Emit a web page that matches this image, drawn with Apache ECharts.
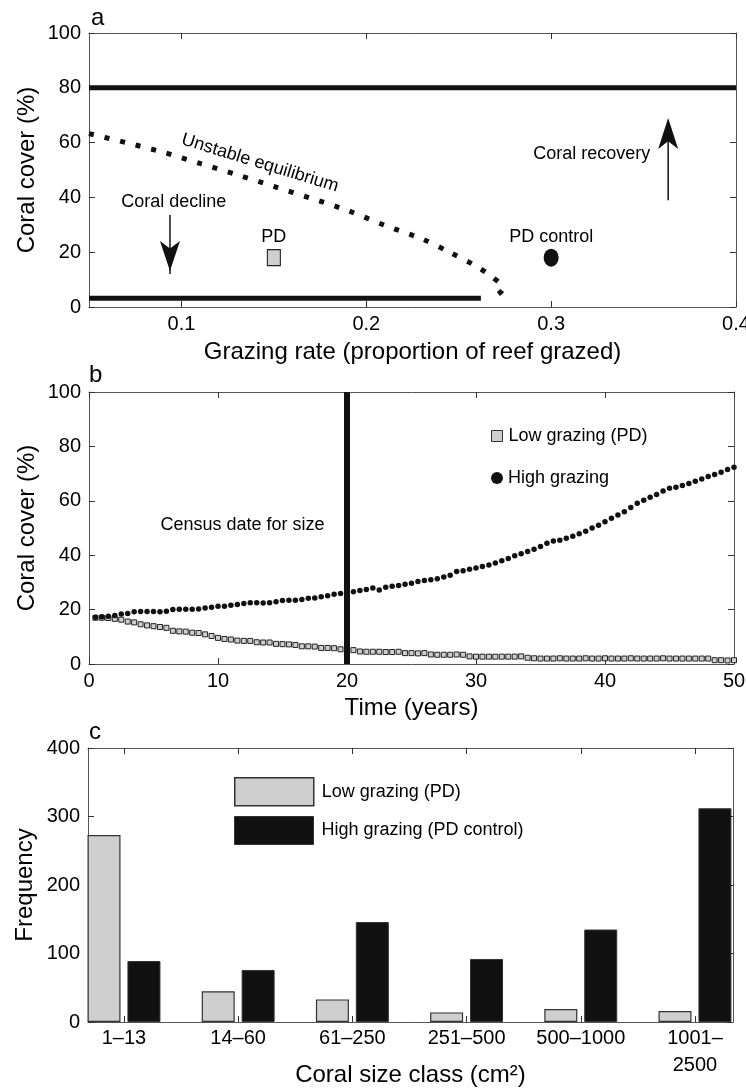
<!DOCTYPE html>
<html><head><meta charset="utf-8">
<script src="https://cdn.jsdelivr.net/npm/echarts@6/dist/echarts.min.js"></script>
<style>html,body{margin:0;padding:0;background:#fff}#c{width:746px;height:1089px}</style>
</head><body><div id="c"></div>
<script>
// ---------- Panel a ----------
const aUpperStable = [[0.05, 80], [0.4, 80]];
const aLowerStable = [[0.05, 3.2], [0.262, 3.2]];
const aUnstable = [[0.05, 63.3], [0.07, 60.0], [0.09, 56.5], [0.11, 52.4], [0.13, 48.3], [0.15, 44.0],
  [0.17, 39.7], [0.19, 35.2], [0.21, 29.8], [0.23, 24.9], [0.245, 20.0], [0.26, 14.7], [0.268, 11.0],
  [0.274, 6.8], [0.271, 4.5], [0.266, 3.3]];
const aPD = [[0.15, 18]];
const aPDControl = [[0.3, 18]];
const aTicksX = [0.1, 0.2, 0.3, 0.4];
const aTicksY = [0, 20, 40, 60, 80, 100];

// ---------- Panel b ----------
const bTime = [0.5,1,1.5,2,2.5,3,3.5,4,4.5,5,5.5,6,6.5,7,7.5,8,8.5,9,9.5,10,
  10.5,11,11.5,12,12.5,13,13.5,14,14.5,15,15.5,16,16.5,17,17.5,18,18.5,19,19.5,20,
  20.5,21,21.5,22,22.5,23,23.5,24,24.5,25,25.5,26,26.5,27,27.5,28,28.5,29,29.5,30,
  30.5,31,31.5,32,32.5,33,33.5,34,34.5,35,35.5,36,36.5,37,37.5,38,38.5,39,39.5,40,
  40.5,41,41.5,42,42.5,43,43.5,44,44.5,45,45.5,46,46.5,47,47.5,48,48.5,49,49.5,50];
const bLow = [17.0,17.0,16.9,16.6,16.3,15.6,15.3,14.6,14.2,13.9,
  13.6,13.3,12.2,12.0,11.9,11.5,11.4,10.9,10.3,9.6,
  9.2,9.0,8.6,8.5,8.5,8.0,7.9,7.9,7.4,7.3,
  7.2,7.0,6.5,6.5,6.4,5.9,5.9,5.8,5.4,5.3,
  5.1,4.6,4.5,4.5,4.5,4.4,4.4,4.5,4.0,4.0,
  3.9,4.0,3.5,3.4,3.4,3.4,3.5,3.4,2.8,2.7,
  2.7,2.7,2.7,2.7,2.7,2.7,2.8,2.3,2.1,2.0,
  2.0,2.0,2.1,2.0,2.0,2.0,2.1,2.0,2.0,2.1,
  2.0,2.0,2.0,2.1,2.0,2.0,2.0,2.0,2.1,2.0,
  2.0,2.0,2.0,2.0,2.0,2.0,1.4,1.4,1.3,1.4];
const bHigh = [17.2,17.4,17.6,17.8,18.4,18.6,19.2,19.3,19.3,19.3,
  19.2,19.4,20.0,20.1,20.1,20.1,20.2,20.6,20.9,21.2,
  21.2,21.6,21.9,22.2,22.5,22.5,22.4,22.5,22.9,23.3,
  23.4,23.4,23.7,24.2,24.3,24.7,25.1,25.6,25.9,26.0,
  26.6,27.0,27.4,27.9,27.2,28.2,28.6,28.9,29.3,29.7,
  30.3,30.7,31.0,31.3,32.0,32.6,34.0,34.3,34.8,35.3,
  35.8,36.4,37.1,38.0,38.8,39.8,40.5,41.4,42.2,43.2,
  44.4,45.2,45.5,46.2,47.0,47.9,48.8,50.0,51.0,52.3,
  53.6,54.8,56.0,57.5,59.1,60.2,61.3,62.3,63.6,64.6,
  65.0,65.6,66.4,67.2,68.0,68.9,69.7,70.5,71.5,72.3];
const bCensusYear = 20;

// ---------- Panel c ----------
const cCategories = ['1–13', '14–60', '61–250', '251–500', '500–1000', '1001–\n2500'];
const cLow = [273, 45, 33, 14, 19, 16];
const cHigh = [89, 76, 146, 92, 135, 312];

// ---------- styling ----------
const FONT = 'Liberation Sans';
const INK = '#111';
const FRAME = '#555';
const GRAYFILL = '#cfcfcf';
const TXT = '#000';

function frameAxis(extra) {
  return Object.assign({
    axisLine: { show: true, onZero: false, lineStyle: { color: FRAME, width: 1 } },
    axisTick: { show: true, inside: true, length: 6, lineStyle: { color: '#333' } },
    axisLabel: { show: false },
    splitLine: { show: false },
    nameMoveOverlap: false
  }, extra);
}
const labelStyle = { color: TXT, fontSize: 20, fontFamily: FONT };
const nameStyle = { color: TXT, fontSize: 24, fontFamily: FONT };
const titleStyle = { fontSize: 24, fontWeight: 'normal', color: TXT, fontFamily: FONT };

const chart = echarts.init(document.getElementById('c'), null, { renderer: 'canvas' });

const annot = (xi, yi, items, extra) => ({
  type: 'scatter', xAxisIndex: xi, yAxisIndex: yi, symbolSize: 0, silent: true,
  itemStyle: { opacity: 1 },
  data: items,
  label: Object.assign({ show: true, position: 'inside', formatter: p => p.name,
    color: TXT, fontSize: 18, fontFamily: FONT }, extra || {})
});

const option = {
  animation: false,
  backgroundColor: '#fff',
  textStyle: { fontFamily: FONT },
  title: [
    { text: 'a', left: 91, top: 6, padding: 0, textStyle: titleStyle },
    { text: 'b', left: 89, top: 363, padding: 0, textStyle: titleStyle },
    { text: 'c', left: 89, top: 720, padding: 0, textStyle: titleStyle }
  ],
  grid: [
    { left: 89, top: 33, width: 647, height: 274, outerBoundsMode: 'none', containLabel: false },
    { left: 89, top: 392, width: 645, height: 272, outerBoundsMode: 'none', containLabel: false },
    { left: 88, top: 748, width: 645, height: 274, outerBoundsMode: 'none', containLabel: false }
  ],
  legend: [
    { data: ['Low grazing (PD)'], left: 486, top: 421, itemWidth: 11, itemHeight: 11, selectedMode: false,
      textStyle: { fontSize: 18, fontFamily: FONT, color: TXT, lineHeight: 20, padding: [0, 0, 0, 1] },
      icon: 'rect', itemStyle: { color: GRAYFILL, borderColor: '#333', borderWidth: 1, opacity: 1 } },
    { data: ['High grazing'], left: 486, top: 463, itemWidth: 12, itemHeight: 12, selectedMode: false,
      textStyle: { fontSize: 18, fontFamily: FONT, color: TXT, lineHeight: 20, padding: [0, 0, 0, 0] },
      icon: 'circle', itemStyle: { color: INK, opacity: 1 } },
    { data: [{ name: 'Low grazing (PD)', icon: 'rect', itemStyle: { color: GRAYFILL, borderColor: '#333', borderWidth: 1.5, opacity: 1 } }],
      left: 229, top: 772, itemWidth: 79, itemHeight: 28, selectedMode: false,
      textStyle: { fontSize: 18, fontFamily: FONT, color: TXT, padding: [0, 0, 0, 3] } },
    { data: [{ name: 'High grazing (PD control)', icon: 'rect', itemStyle: { color: INK, borderColor: '#333', borderWidth: 1, opacity: 1 } }],
      left: 229, top: 811, itemWidth: 79, itemHeight: 28, selectedMode: false,
      textStyle: { fontSize: 18, fontFamily: FONT, color: TXT, padding: [0, 0, 0, 3] } }
  ],
  xAxis: [
    frameAxis({ gridIndex: 0, type: 'value', min: 0.05, max: 0.4, position: 'bottom',
      axisTick: { show: true, inside: true, length: 6, customValues: aTicksX, lineStyle: { color: '#333' } },
      axisLabel: Object.assign({ show: true, margin: 7, customValues: aTicksX, formatter: v => String(+v.toFixed(2)) }, labelStyle),
      name: 'Grazing rate (proportion of reef grazed)', nameLocation: 'middle', nameGap: 33, nameTextStyle: nameStyle }),
    frameAxis({ gridIndex: 0, type: 'value', min: 0.05, max: 0.4, position: 'top',
      axisTick: { show: true, inside: true, length: 6, customValues: aTicksX, lineStyle: { color: '#333' } } }),
    frameAxis({ gridIndex: 1, type: 'value', min: 0, max: 50, interval: 10, position: 'bottom',
      axisLabel: Object.assign({ show: true, margin: 7 }, labelStyle),
      name: 'Time (years)', nameLocation: 'middle', nameGap: 32, nameTextStyle: nameStyle }),
    frameAxis({ gridIndex: 1, type: 'value', min: 0, max: 50, interval: 10, position: 'top' }),
    frameAxis({ gridIndex: 2, type: 'value', min: 0.685, max: 6.333, position: 'bottom',
      axisTick: { show: true, inside: true, length: 6, customValues: [1, 2, 3, 4, 5, 6], lineStyle: { color: '#333' } },
      axisLabel: Object.assign({ show: true, margin: 3, lineHeight: 27, customValues: [1, 2, 3, 4, 5, 6],
        formatter: v => cCategories[Math.round(v) - 1] }, labelStyle),
      name: 'Coral size class (cm²)', nameLocation: 'middle', nameGap: 41, nameTextStyle: nameStyle }),
    frameAxis({ gridIndex: 2, type: 'value', min: 0.685, max: 6.333, position: 'top',
      axisTick: { show: true, inside: true, length: 6, customValues: [1, 2, 3, 4, 5, 6], lineStyle: { color: '#333' } } })
  ],
  yAxis: [
    frameAxis({ gridIndex: 0, type: 'value', min: 0, max: 100, interval: 20, position: 'left',
      axisLabel: Object.assign({ show: true, margin: 8 }, labelStyle),
      name: 'Coral cover (%)', nameLocation: 'middle', nameGap: 50, nameTextStyle: nameStyle }),
    frameAxis({ gridIndex: 0, type: 'value', min: 0, max: 100, interval: 20, position: 'right' }),
    frameAxis({ gridIndex: 1, type: 'value', min: 0, max: 100, interval: 20, position: 'left',
      axisLabel: Object.assign({ show: true, margin: 8 }, labelStyle),
      name: 'Coral cover (%)', nameLocation: 'middle', nameGap: 50, nameTextStyle: nameStyle }),
    frameAxis({ gridIndex: 1, type: 'value', min: 0, max: 100, interval: 20, position: 'right' }),
    frameAxis({ gridIndex: 2, type: 'value', min: 0, max: 400, interval: 100, position: 'left',
      axisLabel: Object.assign({ show: true, margin: 8 }, labelStyle),
      name: 'Frequency', nameLocation: 'middle', nameGap: 51, nameTextStyle: nameStyle }),
    frameAxis({ gridIndex: 2, type: 'value', min: 0, max: 400, interval: 100, position: 'right' })
  ],
  series: [
    // ----- panel a -----
    { name: 'Stable (high)', type: 'line', xAxisIndex: 0, yAxisIndex: 0, data: aUpperStable, symbol: 'none',
      lineStyle: { color: INK, width: 5 }, silent: true },
    { name: 'Stable (low)', type: 'line', xAxisIndex: 0, yAxisIndex: 0, data: aLowerStable, symbol: 'none',
      lineStyle: { color: INK, width: 5 }, silent: true },
    { name: 'Unstable equilibrium', type: 'line', xAxisIndex: 0, yAxisIndex: 0, data: aUnstable, symbol: 'none',
      smooth: 0.3, lineStyle: { color: INK, width: 5, type: [5, 11], cap: 'butt' }, silent: true },
    // arrows
    { type: 'line', xAxisIndex: 0, yAxisIndex: 0, data: [[0.0938, 33.6], [0.0938, 12]], symbol: 'none',
      lineStyle: { color: INK, width: 1.5 }, silent: true },
    { type: 'scatter', xAxisIndex: 0, yAxisIndex: 0, data: [[0.0938, 13.1]], symbol: 'arrow', symbolSize: [15, 30],
      symbolRotate: 180, itemStyle: { color: INK, opacity: 1 }, silent: true },
    { type: 'line', xAxisIndex: 0, yAxisIndex: 0, data: [[0.3633, 39], [0.3633, 66]], symbol: 'none',
      lineStyle: { color: INK, width: 1.5 }, silent: true },
    { type: 'scatter', xAxisIndex: 0, yAxisIndex: 0, data: [[0.3633, 69]], symbol: 'arrow', symbolSize: [15, 31],
      itemStyle: { color: INK, opacity: 1 }, silent: true },
    { name: 'PD', type: 'scatter', xAxisIndex: 0, yAxisIndex: 0, data: aPD, symbol: 'rect', symbolSize: [13, 16],
      itemStyle: { color: GRAYFILL, borderColor: '#222', borderWidth: 1.2, opacity: 1 },
      label: { show: true, position: 'top', distance: 3, formatter: 'PD', color: TXT, fontSize: 18, fontFamily: FONT } },
    { name: 'PD control', type: 'scatter', xAxisIndex: 0, yAxisIndex: 0, data: aPDControl, symbol: 'circle', symbolSize: [15, 18],
      itemStyle: { color: INK, opacity: 1 },
      label: { show: true, position: 'top', distance: 3, formatter: 'PD control', color: TXT, fontSize: 18, fontFamily: FONT } },
    annot(0, 0, [
      { name: 'Coral decline', value: [0.0958, 38.3] },
      { name: 'Coral recovery', value: [0.322, 55.8] }
    ]),
    annot(0, 0, [{ name: 'Unstable equilibrium', value: [0.1425, 52.5] }], { rotate: -17 }),
    // ----- panel b -----
    { name: 'Census line', type: 'line', xAxisIndex: 2, yAxisIndex: 2, data: [[bCensusYear, 0], [bCensusYear, 100]],
      symbol: 'none', lineStyle: { color: INK, width: 6 }, silent: true },
    { name: 'Low grazing (PD)', type: 'scatter', xAxisIndex: 2, yAxisIndex: 2, symbol: 'rect', symbolSize: 5,
      data: bTime.map((t, i) => [t, bLow[i]]),
      itemStyle: { color: GRAYFILL, borderColor: '#222', borderWidth: 1, opacity: 1 } },
    { name: 'High grazing', type: 'scatter', xAxisIndex: 2, yAxisIndex: 2, symbol: 'circle', symbolSize: 5.5,
      data: bTime.map((t, i) => [t, bHigh[i]]),
      itemStyle: { color: INK, opacity: 1 } },
    annot(2, 2, [{ name: 'Census date for size', value: [11.9, 51] }]),
    // ----- panel c -----
    { name: 'Low grazing (PD)', type: 'bar', xAxisIndex: 4, yAxisIndex: 4, barWidth: 33, barGap: '21%',
      data: cLow.map((v, i) => [i + 1, v]),
      itemStyle: { color: GRAYFILL, borderColor: '#333', borderWidth: 1.2 } },
    { name: 'High grazing (PD control)', type: 'bar', xAxisIndex: 4, yAxisIndex: 4, barWidth: 33, barGap: '21%',
      data: cHigh.map((v, i) => [i + 1, v]),
      itemStyle: { color: INK, borderColor: '#333', borderWidth: 1 } }
  ]
};
chart.setOption(option);
</script>
</body></html>
